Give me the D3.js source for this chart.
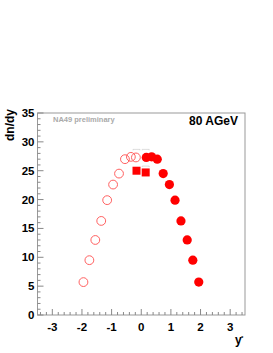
<!DOCTYPE html>
<html>
<head>
<meta charset="utf-8">
<script src="https://cdn.jsdelivr.net/npm/d3@7"></script>
<style>
  body { margin: 0; background: #fff; }
  text { font-family: "Liberation Sans", Arial, sans-serif; font-weight: bold; }
</style>
</head>
<body>
<svg id="chart"></svg>
<script>
// measured (forward hemisphere, filled) and reflected (open) points
var yFilled  = [0.17, 0.35, 0.54, 0.74, 0.95, 1.14, 1.34, 1.55, 1.74, 1.94];
var dnFilled = [27.3, 27.4, 27.0, 24.5, 22.6, 19.9, 16.3, 13.0, 9.5, 5.7];
var yOpen    = [-0.18, -0.35, -0.55, -0.75, -0.95, -1.15, -1.35, -1.55, -1.75, -1.95];
var dnOpen   = [27.3, 27.4, 27.0, 24.5, 22.6, 19.9, 16.3, 13.0, 9.5, 5.7];
var ySquare  = [-0.16, 0.15];
var dnSquare = [25.0, 24.7];
// small systematic error caps near midrapidity
var ySys  = [-0.16, 0.15, 0.15];
var dnSys = [28.7, 28.7, 25.8];
var xTicks = [-3, -2, -1, 0, 1, 2, 3];
var yTicks = [0, 5, 10, 15, 20, 25, 30, 35];

const width = 273, height = 353;
const padLeft = 37.5, padRight = 245, padTop = 113, padBottom = 315;

const x = d3.scaleLinear([-3.5, 3.5], [padLeft, padRight]);
const y = d3.scaleLinear([0, 35], [padBottom, padTop]);

var svg = d3.select("#chart").attr("width", width).attr("height", height);

// frame
svg.append("rect")
    .attr("x", padLeft).attr("y", padTop)
    .attr("width", padRight - padLeft).attr("height", padBottom - padTop)
    .attr("fill", "none").attr("stroke", "#999").attr("stroke-width", 1);

// x ticks (major 1, minor 0.2), drawn inside
var xMinor = d3.range(-34, 35, 2).map(function(d) { return d / 10; });
svg.append("g").selectAll("line").data(xMinor).join("line")
    .attr("x1", function(d) { return x(d); }).attr("x2", function(d) { return x(d); })
    .attr("y1", padBottom).attr("y2", function(d) { return Math.abs(d - Math.round(d)) < 1e-6 ? padBottom - 6 : padBottom - 3; })
    .attr("stroke", "#888");

// y ticks (major 5, minor 1)
var yMinor = d3.range(0, 36, 1);
svg.append("g").selectAll("line").data(yMinor).join("line")
    .attr("y1", function(d) { return y(d); }).attr("y2", function(d) { return y(d); })
    .attr("x1", padLeft).attr("x2", function(d) { return d % 5 === 0 ? padLeft + 6 : padLeft + 3; })
    .attr("stroke", "#888");

svg.append("g").selectAll("text").data(xTicks).join("text")
    .attr("x", function(d) { return x(d); }).attr("y", 331)
    .attr("text-anchor", "middle").attr("font-size", 11.5)
    .text(function(d) { return d < 0 ? "-" + Math.abs(d) : d; });

svg.append("g").selectAll("text").data(yTicks).join("text")
    .attr("x", 34.5).attr("y", function(d) { return y(d) + 4; })
    .attr("text-anchor", "end").attr("font-size", 11.5)
    .text(function(d) { return d; });

// axis titles
svg.append("text")
    .attr("transform", "translate(13.5,109) rotate(-90)")
    .attr("text-anchor", "end").attr("font-size", 12)
    .text("dn/dy");
svg.append("text").attr("x", 235).attr("y", 344).attr("font-size", 12).text("y");
svg.append("text").attr("x", 241).attr("y", 340).attr("font-size", 6).text("*");

svg.append("text").attr("x", 53).attr("y", 122)
    .attr("font-size", 7.5).attr("fill", "#aaa").text("NA49 preliminary");
svg.append("text").attr("x", 238).attr("y", 125)
    .attr("text-anchor", "end").attr("font-size", 12).text("80 AGeV");

// systematic caps
var sys = svg.append("g").attr("stroke", "#bbb").attr("stroke-width", 0.5);
ySys.forEach(function(v, i) {
    var cx = x(v), cy = y(dnSys[i]);
    sys.append("line").attr("x1", cx - 3.5).attr("x2", cx + 3.5).attr("y1", cy).attr("y2", cy);
    sys.append("line").attr("x1", cx - 3.5).attr("x2", cx - 3.5).attr("y1", cy).attr("y2", cy + 1);
    sys.append("line").attr("x1", cx + 3.5).attr("x2", cx + 3.5).attr("y1", cy).attr("y2", cy + 1);
});

// open circles (reflected)
svg.append("g").selectAll("circle").data(yOpen).join("circle")
    .attr("cx", function(d) { return x(d); })
    .attr("cy", function(d, i) { return y(dnOpen[i]); })
    .attr("r", 4.4).attr("fill", "none").attr("stroke", "#ff6060").attr("stroke-width", 1);

// squares
svg.append("g").selectAll("rect").data(ySquare).join("rect")
    .attr("x", function(d) { return x(d) - 4; })
    .attr("y", function(d, i) { return y(dnSquare[i]) - 4; })
    .attr("width", 8).attr("height", 8).attr("fill", "#ff0000");

// filled circles
svg.append("g").selectAll("circle").data(yFilled).join("circle")
    .attr("cx", function(d) { return x(d); })
    .attr("cy", function(d, i) { return y(dnFilled[i]); })
    .attr("r", 4.6).attr("fill", "#ff0000");
</script>
</body>
</html>
